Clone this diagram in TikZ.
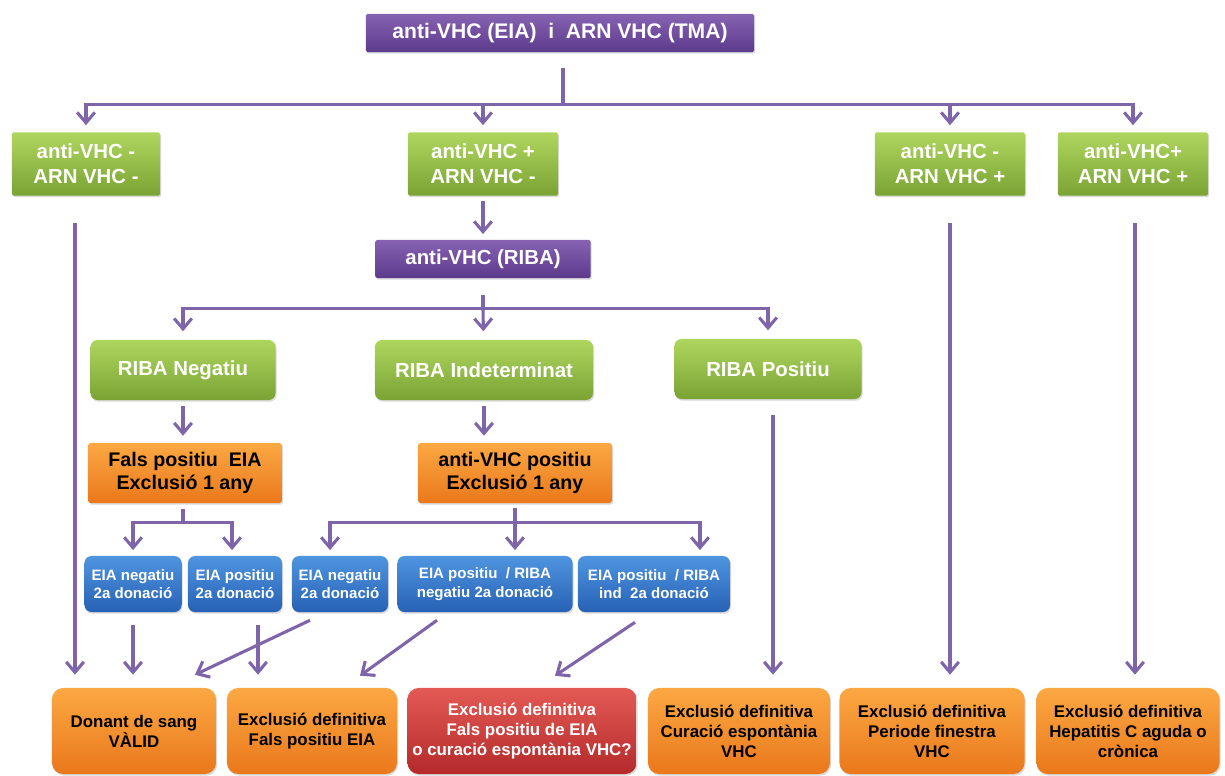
\documentclass[tikz,border=0pt]{standalone}
\usepackage{fontspec}
\setmainfont{Liberation Sans}
\usepackage{xcolor}
\usetikzlibrary{arrows.meta, positioning, calc, shadows}

\definecolor{lilaA}{HTML}{8762B2}
\definecolor{lilaB}{HTML}{5C3A8C}
\definecolor{verdA}{HTML}{AED65E}
\definecolor{verdB}{HTML}{7BA334}
\definecolor{taronA}{HTML}{FBA843}
\definecolor{taronB}{HTML}{EA781B}
\definecolor{blauA}{HTML}{4F95E0}
\definecolor{blauB}{HTML}{2761B5}
\definecolor{vermA}{HTML}{E35A55}
\definecolor{vermB}{HTML}{B42A2A}
\definecolor{lineC}{HTML}{7E64A9}

\begin{document}
\begin{tikzpicture}[
    x=0.025cm, y=-0.025cm,
    tbox/.style={draw=none, top color=#1A, bottom color=#1B, align=center, inner sep=1pt, text=white,
                 drop shadow={opacity=0.3, shadow xshift=0.8pt, shadow yshift=-1.2pt}},
    fbig/.style={font=\fontsize{14.5}{18}\selectfont\bfseries},
    fmid/.style={font=\fontsize{14}{16.5}\selectfont\bfseries},
    fsmall/.style={font=\fontsize{10.7}{13}\selectfont\bfseries},
    fbot/.style={font=\fontsize{12}{14.2}\selectfont\bfseries},
    link/.style={draw=lineC, line width=2.2pt},
    arr/.style={link, -{Straight Barb[length=2.6mm,width=4.4mm]}}
]
\useasboundingbox (0,0) rectangle (1225,776);

% first test
\node[tbox=lila, rounded corners=1pt, minimum width=9.7cm, minimum height=0.95cm, font=\fontsize{15}{18}\selectfont\bfseries] (top) at (560,33) {anti-VHC (EIA)\ \ i\ \ ARN VHC (TMA)};

\node[tbox=verd, rounded corners=1pt, minimum width=3.7cm, minimum height=1.575cm, fbig] (g1) at (86,164) {anti-VHC -\\ARN VHC -};
\node[tbox=verd, rounded corners=1pt, minimum width=3.75cm, minimum height=1.575cm, fbig] (g2) at (483,164) {anti-VHC +\\ARN VHC -};
\node[tbox=verd, rounded corners=1pt, minimum width=3.75cm, minimum height=1.575cm, fbig] (g3) at (950,164) {anti-VHC -\\ARN VHC +};
\node[tbox=verd, rounded corners=1pt, minimum width=3.75cm, minimum height=1.575cm, fbig] (g4) at (1133,164) {anti-VHC+\\ARN VHC +};

% confirmation
\node[tbox=lila, rounded corners=1pt, minimum width=5.375cm, minimum height=0.95cm, fbig] (riba) at (483,259) {anti-VHC (RIBA)};

\node[tbox=verd, rounded corners=5pt, minimum width=4.625cm, minimum height=1.5cm, fbig] (rn) at (183,370) {RIBA Negatiu};
\node[tbox=verd, rounded corners=5pt, minimum width=5.45cm, minimum height=1.5cm, fbig] (ri) at (484,370) {RIBA Indeterminat};
\node[tbox=verd, rounded corners=5pt, minimum width=4.675cm, minimum height=1.5cm, fbig] (rp) at (768,369) {RIBA Positiu};

\node[tbox=taron, text=black, rounded corners=2pt, minimum width=4.85cm, minimum height=1.5cm, fmid] (fp) at (185,473) {Fals positiu\ \ EIA\\Exclusió\ 1 any};
\node[tbox=taron, text=black, rounded corners=2pt, minimum width=4.85cm, minimum height=1.5cm, fmid] (ap) at (515,473) {anti-VHC positiu\\Exclusió\ 1 any};

% second donation
\node[tbox=blau, rounded corners=5pt, minimum width=2.425cm, minimum height=1.4cm, fsmall] (b1) at (133,584) {EIA negatiu\\2a donació};
\node[tbox=blau, rounded corners=5pt, minimum width=2.35cm, minimum height=1.4cm, fsmall] (b2) at (235,584) {EIA positiu\\2a donació};
\node[tbox=blau, rounded corners=5pt, minimum width=2.4cm, minimum height=1.4cm, fsmall] (b3) at (340,584) {EIA negatiu\\2a donació};
\node[tbox=blau, rounded corners=5pt, minimum width=4.375cm, minimum height=1.4cm, fsmall] (b4) at (485,584) {EIA positiu\ \ / RIBA\\negatiu 2a donació};
\node[tbox=blau, rounded corners=5pt, minimum width=3.8cm, minimum height=1.4cm, fsmall] (b5) at (654,584) {EIA positiu\ \ / RIBA\\ind\ \ 2a donació};

% results
\node[tbox=taron, text=black, rounded corners=8pt, minimum width=4.1cm, minimum height=2.15cm, fbot] (d1) at (134,731) {Donant\ de sang\\VÀLID};
\node[tbox=taron, text=black, rounded corners=8pt, minimum width=4.25cm, minimum height=2.15cm, fbot] (d2) at (312,731) {Exclusió definitiva\\Fals positiu EIA};
\node[tbox=verm, rounded corners=8pt, minimum width=5.725cm, minimum height=2.15cm, fbot] (d3) at (522,731) {Exclusió definitiva\\Fals positiu de EIA\\o curació espontània VHC?};
\node[tbox=taron, text=black, rounded corners=8pt, minimum width=4.55cm, minimum height=2.15cm, fbot] (d4) at (739,731) {Exclusió definitiva\\Curació espontània\\VHC};
\node[tbox=taron, text=black, rounded corners=8pt, minimum width=4.625cm, minimum height=2.15cm, fbot] (d5) at (932,731) {Exclusió definitiva\\Periode finestra\\VHC};
\node[tbox=taron, text=black, rounded corners=8pt, minimum width=4.575cm, minimum height=2.15cm, fbot] (d6) at (1128,731) {Exclusió definitiva\\Hepatitis\ C aguda\ o\\crònica};

% splits
\coordinate (tb) at ($(top.south)+(3,52)$);
\draw[link] ($(top.south)+(3,16)$) -- (tb);
\draw[arr, shorten >=5pt] (tb) -| (g1);
\draw[arr, shorten >=5pt] (tb) -| (g2);
\draw[arr, shorten >=5pt] (tb) -| (g3);
\draw[arr, shorten >=5pt] (tb) -| (g4);

\draw[arr, shorten <=4pt, shorten >=4pt] (g2) -- (riba);

\coordinate (rb) at ($(riba.south)+(0,30)$);
\draw[link] ($(riba.south)+(0,17)$) -- (rb);
\draw[arr, shorten >=6pt] (rb) -| (rn);
\draw[arr, shorten >=6pt] (rb) -- (ri);
\draw[arr, shorten >=6pt] (rb) -| (rp);

\draw[arr] ($(rn.south)+(0,6)$) -- ($(rn.south |- fp.north)+(0,-7)$);
\draw[arr] ($(ri.south)+(0,6)$) -- ($(ri.south |- ap.north)+(0,-7)$);

\coordinate (fb) at ($(fp.south)+(-2,19)$);
\draw[link] ($(fp.south)+(-2,6)$) -- (fb);
\draw[arr, shorten >=4pt] (fb) -| (b1);
\draw[arr, shorten >=4pt] (fb) -| ($(b2.north)+(-3,0)$);

\coordinate (ab) at ($(ap.south)+(0,19)$);
\draw[link] ($(ap.south)+(0,5)$) -- (ab);
\draw[arr, shorten >=4pt] (ab) -| ($(b3.north)+(-10,0)$);
\draw[arr, shorten >=4pt] (ab) -- ($(b4.north)+(30,0)$);
\draw[arr, shorten >=4pt] (ab) -| ($(b5.north)+(46,0)$);

% down to the results
\draw[arr] ($(g1.south)+(-11,27)$) -- ($(d1.north)+(-59,-13)$);
\draw[arr] ($(b1.south)+(0,13)$) -- ($(d1.north)+(-1,-13)$);
\draw[arr] ($(b3.south)+(-30,8)$) -- ($(d1.north)+(61,-13)$);
\draw[arr] ($(b2.south)+(23,13)$) -- ($(d2.north)+(-54,-13)$);
\draw[arr] ($(b4.south)+(-48,8)$) -- ($(d2.north)+(48,-12)$);
\draw[arr] ($(b5.south)+(-19,10)$) -- ($(d3.north)+(33,-12)$);
\draw[arr] ($(rp.south)+(5,16)$) -- ($(d4.north)+(34,-13)$);
\draw[arr] ($(g3.south)+(0,27)$) -- ($(d5.north)+(18,-13)$);
\draw[arr] ($(g4.south)+(2,27)$) -- ($(d6.north)+(7,-13)$);

\end{tikzpicture}
\end{document}
